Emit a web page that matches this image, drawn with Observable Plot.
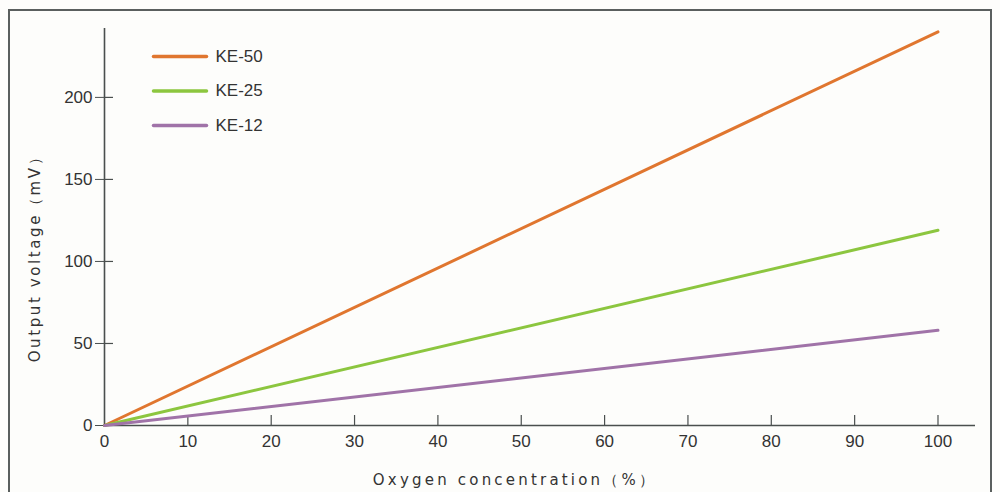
<!DOCTYPE html>
<html>
<head>
<meta charset="utf-8">
<script src="https://cdn.jsdelivr.net/npm/d3@7"></script>
<script src="https://cdn.jsdelivr.net/npm/@observablehq/plot@0.6"></script>
<style>
  html, body { margin: 0; padding: 0; background: #fdfdfb; }
  #wrap { position: relative; width: 1000px; height: 492px; overflow: hidden; }
  #frame { position: absolute; left: 8px; top: 9px; width: 984px; height: 520px; border: 2px solid #5a5f5e; box-sizing: border-box; }
  #chart { position: absolute; left: 0; top: 0; }
</style>
</head>
<body>
<div id="wrap">
  <div id="frame"></div>
  <div id="chart"></div>
</div>
<script>
// Data
const concentration = [0, 100];               // Oxygen concentration (%)
const ke50 = [0, 240];                        // KE-50 output (mV)
const ke25 = [0, 119];                        // KE-25 output (mV)
const ke12 = [0, 58];                         // KE-12 output (mV)
const seriesNames = ["KE-50", "KE-25", "KE-12"];
const seriesColors = ["#e0762f", "#8cc63f", "#a073a8"];
const xTicks = [0, 10, 20, 30, 40, 50, 60, 70, 80, 90, 100];
const yTicks = [0, 50, 100, 150, 200];

const seriesValues = [ke50, ke25, ke12];
const rows = [];
seriesNames.forEach((name, i) => {
  concentration.forEach((c, j) => rows.push({series: name, x: c, y: seriesValues[i][j]}));
});

const W = 1000, H = 492;
const mL = 104, mR = 25, mT = 28, mB = 67;
const xMax = 104.5, yMax = 242;
const pxPerX = (W - mL - mR) / xMax;
const pxPerY = (H - mT - mB) / yMax;

const legendRows = seriesNames.map((s, i) => ({series: s, i}));

const axisColor = "#4a4f4e";
const textColor = "#333";

const plot = Plot.plot({
  width: W,
  height: H,
  marginLeft: mL,
  marginRight: mR,
  marginTop: mT,
  marginBottom: mB,
  style: {background: "transparent", fontFamily: "'Liberation Sans', Arial, sans-serif", fontSize: "17px", color: textColor},
  x: {domain: [0, xMax]},
  y: {domain: [0, yMax]},
  color: {domain: seriesNames, range: seriesColors},
  marks: [
    // axis lines
    Plot.ruleY([0], {x1: 0, x2: xMax, stroke: axisColor, strokeWidth: 1.6}),
    Plot.ruleX([0], {y1: 0, y2: yMax, stroke: axisColor, strokeWidth: 1.6}),
    // x ticks pointing up
    Plot.ruleX(xTicks.filter(d => d > 0), {y1: 0, y2: 10 / pxPerY, stroke: axisColor, strokeWidth: 1.2}),
    Plot.axisX({ticks: xTicks, tickSize: 0, tickPadding: 9, label: null, fontSize: 17, color: textColor}),
    // y ticks crossing the axis
    Plot.axisY({ticks: yTicks, tickSize: 9, tickPadding: 3, label: null, fontSize: 17, color: textColor, stroke: axisColor}),
    Plot.ruleY(yTicks.filter(d => d > 0), {x1: 0, x2: 9 / pxPerX, stroke: axisColor, strokeWidth: 1.2}),
    // series lines
    Plot.line(rows, {x: "x", y: "y", z: "series", stroke: "series", strokeWidth: 3}),
    // legend
    Plot.line(legendRows.flatMap(d => [
      {series: d.series, x: (153 - mL) / pxPerX, y: (H - mB - (56 + d.i * 34.5)) / pxPerY},
      {series: d.series, x: (206 - mL) / pxPerX, y: (H - mB - (56 + d.i * 34.5)) / pxPerY}
    ]), {x: "x", y: "y", z: "series", stroke: "series", strokeWidth: 3.5}),
    Plot.text(legendRows, {
      x: () => (215 - mL) / pxPerX,
      y: d => (H - mB - (56 + d.i * 34.5)) / pxPerY,
      text: "series", textAnchor: "start", fontSize: 17, fill: textColor
    })
  ]
});

// axis titles as real text inside the svg
const svg = d3.select(plot);
svg.append("text")
  .attr("x", 515).attr("y", 485)
  .attr("text-anchor", "middle")
  .attr("font-family", "'DejaVu Sans', sans-serif")
  .attr("font-size", 15)
  .attr("letter-spacing", "3.2px")
  .attr("fill", textColor)
  .text("Oxygen concentration（%）");
svg.append("text")
  .attr("transform", "translate(40,255) rotate(-90)")
  .attr("text-anchor", "middle")
  .attr("font-family", "'DejaVu Sans', sans-serif")
  .attr("font-size", 15)
  .attr("letter-spacing", "2.6px")
  .attr("fill", textColor)
  .text("Output voltage（mV）");

document.getElementById("chart").appendChild(plot);
</script>
</body>
</html>
